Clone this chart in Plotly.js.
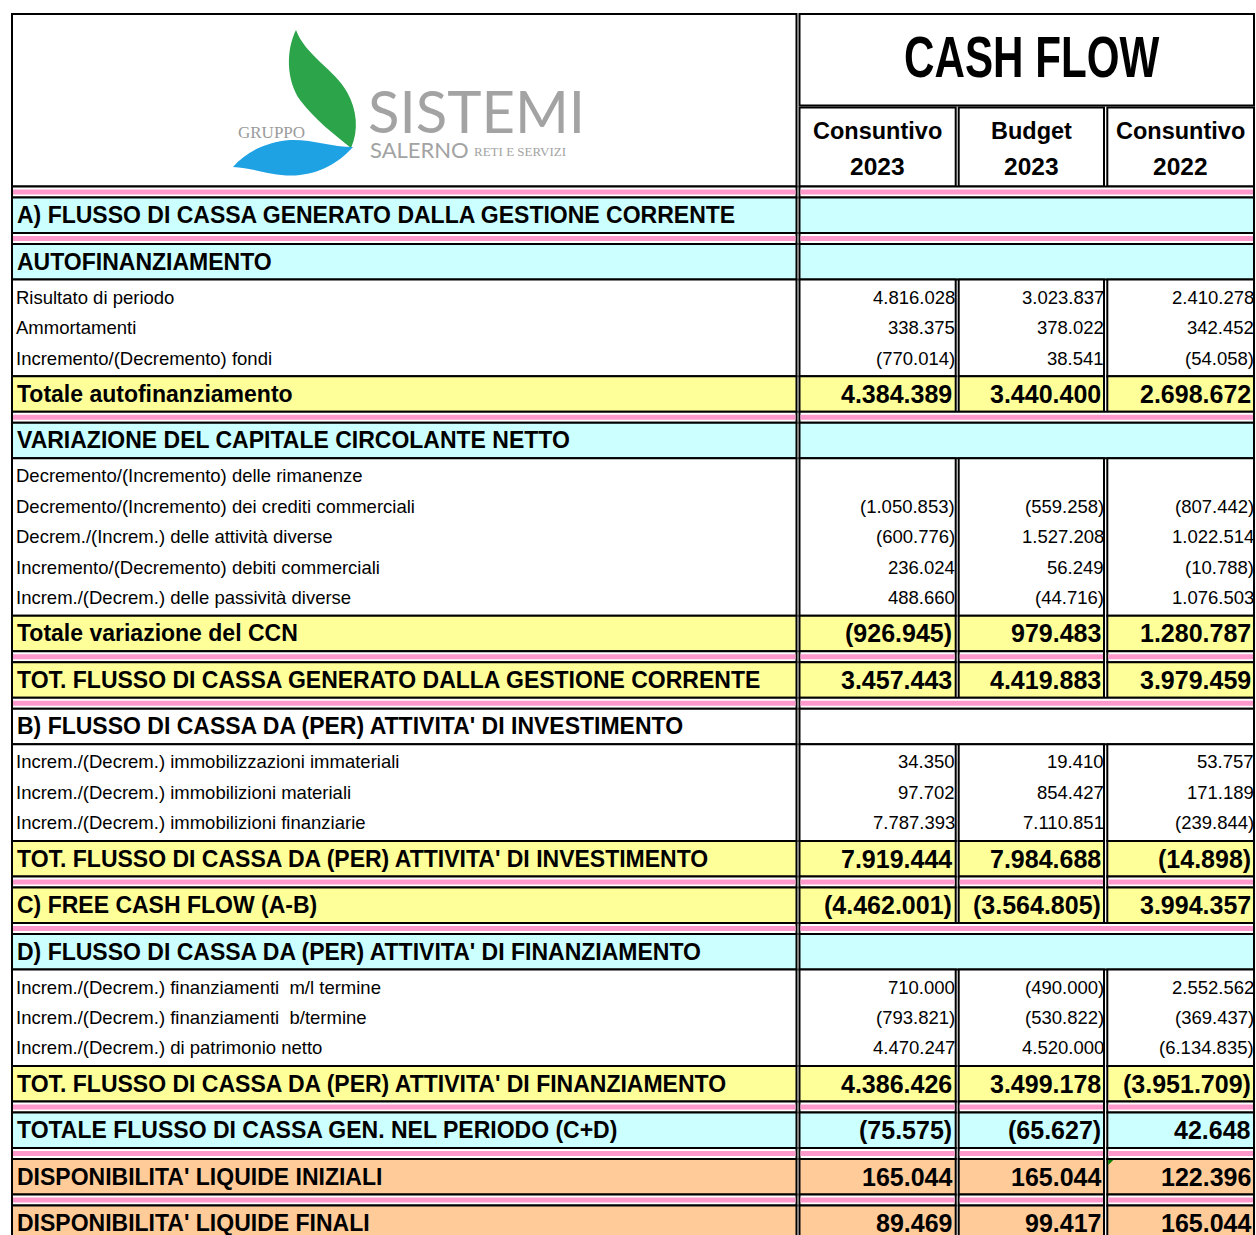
<!DOCTYPE html>
<html><head><meta charset="utf-8">
<script src="https://cdn.plot.ly/plotly-3.0.1.min.js"></script>
<style>
html,body{margin:0;padding:0;background:#fff;}
#chart{width:1256px;height:1235px;}
.annotation[data-index="0"] .annotation-text{transform:scaleX(0.74);transform-box:fill-box;transform-origin:50% 50%;}
</style></head><body><div id="chart"></div>
<script>
// ---------- DATA ----------
const chartTitle = "CASH FLOW";
const colHeadLine1 = ["Consuntivo", "Budget", "Consuntivo"];
const colHeadLine2 = ["2023", "2023", "2022"];

const rowLabels = [
  "A) FLUSSO DI CASSA GENERATO DALLA GESTIONE CORRENTE",
  "AUTOFINANZIAMENTO",
  "Risultato di periodo",
  "Ammortamenti",
  "Incremento/(Decremento) fondi",
  "Totale autofinanziamento",
  "VARIAZIONE DEL CAPITALE CIRCOLANTE NETTO",
  "Decremento/(Incremento) delle rimanenze",
  "Decremento/(Incremento) dei crediti commerciali",
  "Decrem./(Increm.) delle attività diverse",
  "Incremento/(Decremento) debiti commerciali",
  "Increm./(Decrem.) delle passività diverse",
  "Totale variazione del CCN",
  "TOT. FLUSSO DI CASSA GENERATO DALLA GESTIONE CORRENTE",
  "B) FLUSSO DI CASSA DA (PER) ATTIVITA' DI INVESTIMENTO",
  "Increm./(Decrem.) immobilizzazioni immateriali",
  "Increm./(Decrem.) immobilizioni materiali",
  "Increm./(Decrem.) immobilizioni finanziarie",
  "TOT. FLUSSO DI CASSA DA (PER) ATTIVITA' DI INVESTIMENTO",
  "C) FREE CASH FLOW (A-B)",
  "D) FLUSSO DI CASSA DA (PER) ATTIVITA' DI FINANZIAMENTO",
  "Increm./(Decrem.) finanziamenti  m/l termine",
  "Increm./(Decrem.) finanziamenti  b/termine",
  "Increm./(Decrem.) di patrimonio netto",
  "TOT. FLUSSO DI CASSA DA (PER) ATTIVITA' DI FINANZIAMENTO",
  "TOTALE FLUSSO DI CASSA GEN. NEL PERIODO (C+D)",
  "DISPONIBILITA' LIQUIDE INIZIALI",
  "DISPONIBILITA' LIQUIDE FINALI"
];

const rowKinds = ["secC","secC","data","data","data","totY","secC","data","data","data","data","data",
  "totY","totY","secW","data","data","data","totY","totY","secC","data","data","data","totY","totC","totO","totO"];

const consuntivo2023 = [null,null,4816028,338375,-770014,4384389,null,null,-1050853,-600776,236024,488660,
  -926945,3457443,null,34350,97702,7787393,7919444,-4462001,null,710000,-793821,4470247,4386426,-75575,165044,89469];
const budget2023 = [null,null,3023837,378022,38541,3440400,null,null,-559258,1527208,56249,-44716,
  979483,4419883,null,19410,854427,7110851,7984688,-3564805,null,-490000,-530822,4520000,3499178,-65627,165044,99417];
const consuntivo2022 = [null,null,2410278,342452,-54058,2698672,null,null,-807442,1022514,-10788,1076503,
  1280787,3979459,null,53757,171189,-239844,-14898,3994357,null,2552562,-369437,-6134835,-3951709,42648,122396,165044];

const logoGroup = "GRUPPO", logoName = "SISTEMI", logoCity = "SALERNO", logoSub = "RETI E SERVIZI";

// ---------- STYLE / GEOMETRY ----------
const W = 1256, H = 1235;
const FONT = "Liberation Sans, Arial, sans-serif";
const fills = {secC:"#ccffff", secW:"#ffffff", totY:"#ffff99", totC:"#ccffff", totO:"#ffcc99", data:"#ffffff"};
const PINK = "#ff99cc";
const X0 = 12, XL = 796.5;
const COLS = [[799.5, 955.7], [958.7, 1104], [1107.3, 1254]];
const TOP = 14, HEAD_BOT = 186.5, TITLE_BOT = 105.5, SUB_TOP = 107.5;
const BAND = 35.5, SEP = 11, ROWH = 30.4, PAD_T = 2.5, PAD_B = 3;
const LW = 2;

const valueCols = [consuntivo2023, budget2023, consuntivo2022];

function fmt(v) {
  if (v === null || v === undefined) return "";
  const s = Math.abs(v).toString().replace(/\B(?=(\d{3})+(?!\d))/g, ".");
  return v < 0 ? "(" + s + ")" : s;
}

const shapes = [];
const annotations = [];

function rect(x0, x1, y0, y1, fill, lw) {
  shapes.push({type:"rect", xref:"x", yref:"y", x0:x0, x1:x1, y0:y0, y1:y1,
    fillcolor: fill, line:{color: lw ? "#000" : "rgba(0,0,0,0)", width: lw || 0}});
}
function text(t, x, y, xanchor, size, bold, color, family) {
  annotations.push({text: t, x: x, y: y, xref:"x", yref:"y", xanchor: xanchor, yanchor:"middle",
    showarrow:false, borderpad:0,
    font:{family: family || FONT, size: size, color: color || "#000", weight: bold ? 700 : 400}});
}

// title first (annotation index 0)
text(chartTitle, (COLS[0][0] + COLS[2][1]) / 2 + 5, 57, "center", 57, true);

// ---------- HEADER ----------
rect(X0, XL, TOP, HEAD_BOT, "#fff", LW);
rect(COLS[0][0], COLS[2][1], TOP, TITLE_BOT, "#fff", LW);
COLS.forEach((c, j) => {
  rect(c[0], c[1], SUB_TOP, HEAD_BOT, "#fff", LW);
  text(colHeadLine1[j], (c[0] + c[1]) / 2, 131, "center", 23.5, true);
  text(colHeadLine2[j], (c[0] + c[1]) / 2, 166, "center", 24.5, true);
});

// logo
shapes.push({type:"path", xref:"x", yref:"y",
  path:"M296,30 C286,50 286,80 300,100 C315,120 335,135 351,148 C359,130 357,110 347,92 C335,70 305,55 296,30 Z",
  fillcolor:"#2ba44a", line:{width:0}});
shapes.push({type:"path", xref:"x", yref:"y",
  path:"M233,167 C246,152 266,142 290,140 C311,139 331,147 353,147 C341,160 325,172 300,175 C276,178 256,168 233,167 Z",
  fillcolor:"#1ea2e4", line:{width:0}});
text(logoGroup, 271, 132, "center", 17, false, "#9b9b9b", "Liberation Serif, serif");
text(logoName, 476, 110, "center", 58, false, "#a3a3a3", "Lato, Liberation Sans, sans-serif");
text(logoCity, 419, 149, "center", 22, false, "#a3a3a3", "Lato, Liberation Sans, sans-serif");
text(logoSub, 520, 151, "center", 13, false, "#a3a3a3", "Liberation Serif, serif");

// ---------- BODY ----------
let y = HEAD_BOT;
let prevKind = "header";
let blockTop = null;
function isThree(k) { return k === "header" || k.startsWith("tot"); }

for (let i = 0; i < rowLabels.length; i++) {
  const kind = rowKinds[i];
  if (kind === "data") {
    if (prevKind !== "data") { blockTop = y; y += PAD_T; }
    const cy = y + ROWH / 2;
    text(rowLabels[i], 15, cy, "left", 18.5, false);
    COLS.forEach((c, j) => text(fmt(valueCols[j][i]), c[1] + 0.5, cy, "right", 18.5, false));
    y += ROWH;
    if (i === rowLabels.length - 1 || rowKinds[i + 1] !== "data") {
      y += PAD_B;
      rect(X0, XL, blockTop, y, "#fff", LW);
      COLS.forEach(c => rect(c[0], c[1], blockTop, y, "#fff", LW));
    }
  } else {
    if (prevKind !== "data") {
      const s0 = y, s1 = y + SEP;
      const segs = [[X0, XL]];
      if (isThree(prevKind) && isThree(kind)) COLS.forEach(c => segs.push(c));
      else segs.push([COLS[0][0], COLS[2][1]]);
      segs.forEach(sg => {
        rect(sg[0], sg[1], s0, s1, "#fff", LW);
        rect(sg[0] + 1, sg[1] - 1, s0 + 3, s1 - 3, PINK, 0);
      });
      y = s1;
    }
    const y0 = y, y1 = y + BAND, cy = (y0 + y1) / 2;
    rect(X0, XL, y0, y1, fills[kind], LW);
    text(rowLabels[i], 16, cy, "left", 23, true);
    if (isThree(kind)) {
      COLS.forEach((c, j) => {
        rect(c[0], c[1], y0, y1, fills[kind], LW);
        text(fmt(valueCols[j][i]), c[1] - 2.5, cy, "right", 25, true);
      });
      if (i === 26) {
        const c = COLS[2];
        shapes.push({type:"path", xref:"x", yref:"y",
          path:`M${c[0]+1},${y0+1} L${c[0]+6},${y0+1} L${c[0]+1},${y0+6} Z`,
          fillcolor:"#008000", line:{width:0}});
      }
    } else {
      rect(COLS[0][0], COLS[2][1], y0, y1, fills[kind], LW);
    }
    y = y1;
  }
  prevKind = kind;
}

const layout = {
  width: W, height: H,
  margin: {l:0, r:0, t:0, b:0, pad:0},
  paper_bgcolor: "#fff", plot_bgcolor: "#fff",
  showlegend: false,
  xaxis: {range:[0, W], visible:false, fixedrange:true},
  yaxis: {range:[H, 0], visible:false, fixedrange:true},
  shapes: shapes,
  annotations: annotations
};
Plotly.newPlot("chart", [{type:"scatter", x:[], y:[], mode:"markers", hoverinfo:"skip"}], layout,
  {staticPlot:true, displayModeBar:false});
</script></body></html>
